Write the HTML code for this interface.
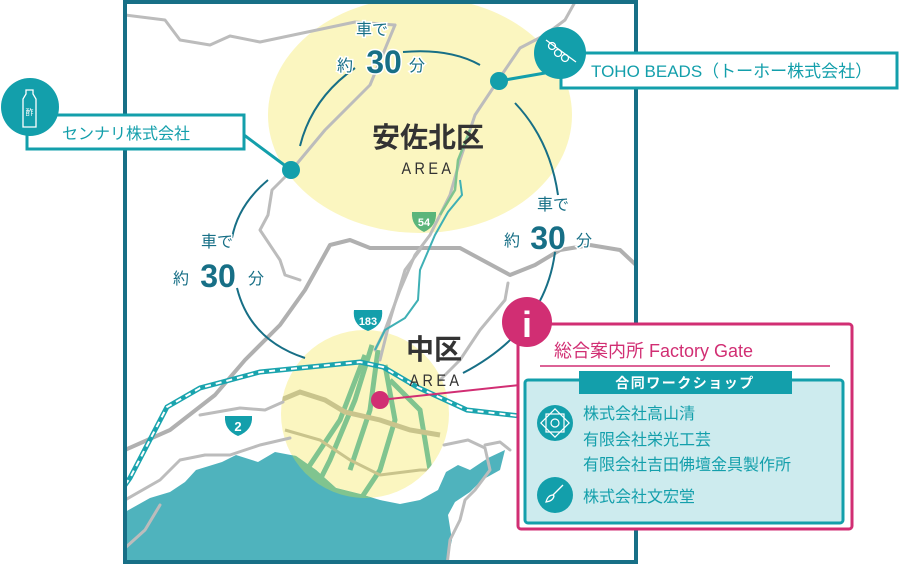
<!DOCTYPE html>
<html><head><meta charset="utf-8">
<style>
html,body{margin:0;padding:0;background:#fff;}
svg{display:block;}
text{font-family:"Liberation Sans","Noto Sans CJK JP",sans-serif;}
</style></head>
<body>
<svg width="900" height="567" viewBox="0 0 900 567" xmlns="http://www.w3.org/2000/svg">
<defs>
<clipPath id="mapclip"><rect x="125" y="2" width="511" height="560"/></clipPath>
<clipPath id="circ"><circle cx="365" cy="414" r="84"/></clipPath>
</defs>
<g clip-path="url(#mapclip)">
<rect x="125" y="2" width="511" height="560" fill="#fff"/>
<ellipse cx="420" cy="115" rx="152" ry="118" fill="#fbf6c0"/>
<circle cx="365" cy="414" r="84" fill="#fbf6c0"/>
<path d="M125,512 L150,498 L170,492 L185,482 L196,470 L222,462 L236,455 L258,462 L275,452 L296,456 L316,470 L336,488 L360,494 L380,500 L400,504 L420,500 L438,490 L446,472 L458,465 L470,470 L488,458 L505,450 L500,470 L482,480 L470,492 L455,502 L448,515 L452,540 L446,565 L125,565 Z" fill="#4fb3bd"/>
<g clip-path="url(#circ)"><path d="M125,512 L150,498 L170,492 L185,482 L196,470 L222,462 L236,455 L258,462 L275,452 L296,456 L316,470 L336,488 L360,494 L380,500 L400,504 L420,500 L438,490 L446,472 L458,465 L470,470 L488,458 L505,450 L500,470 L482,480 L470,492 L455,502 L448,515 L452,540 L446,565 L125,565 Z" fill="#80c48f"/>
<g stroke="#80c48f" stroke-width="5" fill="none">
<path d="M372,345 L355,400 L330,460 L310,500"/>
<path d="M378,350 L370,410 L350,470"/>
<path d="M385,365 L395,420 L380,470 L360,500"/>
<path d="M365,355 L340,420 L300,480"/>
<path d="M390,380 L420,410 L430,470"/>
</g>
<path d="M281,400 L300,392 L325,400 L345,412 L380,420 L410,430 L440,435" stroke="#c9c48c" stroke-width="5" fill="none"/>
<path d="M285,430 L320,440 L350,460 L380,475 L420,470 L450,470" stroke="#c9c48c" stroke-width="3" fill="none"/>
</g>
<g stroke="#bcbcbc" fill="none" stroke-linecap="round" stroke-linejoin="round">
<path d="M125,15 L165,20 L180,40 L210,45 L230,36 L260,42 L355,22 L395,25" stroke-width="3"/>
<path d="M395,25 L370,85 L355,100 L325,130 L310,148 L290,172 L272,190 L268,215 L260,230 L280,260 L285,275 L300,280" stroke-width="3"/>
<path d="M125,450 L170,430 L215,395 L245,360 L280,325 L305,290 L330,245 L350,240 L370,248 L460,248 L510,275 L535,265 L560,250 L590,245 L620,250 L636,265" stroke="#b0b0b0" stroke-width="4"/>
<path d="M125,500 L160,480 L180,460 L205,455 L230,455 L260,445 L290,438" stroke-width="3"/>
<path d="M125,548 L145,530 L160,505" stroke-width="3"/>
<path d="M200,415 L240,408 L265,410 L283,402" stroke-width="3"/>
<path d="M575,2 L565,20 L545,35 L520,48 L505,70 L475,115 L460,160 L450,195 L430,235 L415,255 L400,290 L385,330 L375,350" stroke-width="3"/>
<path d="M420,250 L405,270 L390,320 L380,360" stroke-width="3"/>
<path d="M508,283 L505,300 L480,330 L460,360 L440,380" stroke-width="3"/>
<path d="M444,445 L468,440 L485,448 L490,470 L475,490 L465,500 L460,520 L450,540 L447,565" stroke-width="3"/>
<path d="M485,445 L500,442 L510,450" stroke-width="3"/>
</g>
<path d="M460,180 L462,195 L448,212 L435,235 L420,270 L418,300 L405,318 L385,330 L375,350" stroke="#3fb0b5" stroke-width="2" fill="none"/>
<path d="M470,130 L458,160 L455,190 L440,215" stroke="#7fc48f" stroke-width="2.5" fill="none"/>
<path d="M125,485 L130,478 L167,407 L200,388 L260,372 L360,362 L383,367 L417,387 L467,410 L520,416 L640,420" stroke="#1aa4ae" stroke-width="5" fill="none"/>
<path d="M125,485 L130,478 L167,407 L200,388 L260,372 L360,362 L383,367 L417,387 L467,410 L520,416 L640,420" stroke="#fff" stroke-width="2" stroke-dasharray="6 5" fill="none"/>
<path d="M412,212 L436,212 Q437,226 424,232 Q411,226 412,212 Z" fill="#5bb57b"/>
<text x="424" y="226" font-size="11" font-weight="bold" fill="#fff" text-anchor="middle">54</text>
<path d="M354,310 L382,310 Q384,325 368,331 Q352,325 354,310 Z" fill="#139fab"/>
<text x="368" y="325" font-size="11" font-weight="bold" fill="#fff" text-anchor="middle">183</text>
<path d="M225,416 L252,416 Q253,430 238,436 Q224,430 225,416 Z" fill="#139fab"/>
<text x="238" y="431" font-size="13" font-weight="bold" fill="#fff" text-anchor="middle">2</text>
<g stroke="#176f86" stroke-width="2" fill="none">
<path d="M300,146 Q312,98 355,68"/>
<path d="M403,52 Q450,48 480,65"/>
<path d="M515,103 Q550,140 558,195"/>
<path d="M555,252 Q545,330 463,373"/>
<path d="M268,180 Q238,205 232,238"/>
<path d="M237,288 Q250,340 305,358"/>
</g>
<g fill="#176f86" text-anchor="middle" stroke="#fff" stroke-width="3" paint-order="stroke">
<text x="372" y="35" font-size="16">車で</text>
<text x="345" y="71" font-size="16">約</text>
<text x="384" y="73" font-size="32" font-weight="bold">30</text>
<text x="417" y="71" font-size="16">分</text>
<text x="553" y="210" font-size="16">車で</text>
<text x="512" y="246" font-size="16">約</text>
<text x="548" y="249" font-size="32" font-weight="bold">30</text>
<text x="584" y="246" font-size="16">分</text>
<text x="217" y="247" font-size="16">車で</text>
<text x="181" y="284" font-size="16">約</text>
<text x="218" y="287" font-size="32" font-weight="bold">30</text>
<text x="256" y="284" font-size="16">分</text>
</g>
<text x="428" y="147" font-size="28" font-weight="bold" fill="#333" text-anchor="middle">安佐北区</text>
<text x="428" y="174" font-size="17" fill="#333" text-anchor="middle" letter-spacing="4" transform="translate(428 0) scale(0.85 1) translate(-428 0)">AREA</text>
<text x="434" y="359" font-size="28" font-weight="bold" fill="#333" text-anchor="middle">中区</text>
<text x="436" y="386" font-size="17" fill="#333" text-anchor="middle" letter-spacing="4" transform="translate(436 0) scale(0.85 1) translate(-436 0)">AREA</text>
<line x1="380" y1="400" x2="520" y2="385" stroke="#d12e73" stroke-width="2"/>
<circle cx="380" cy="400" r="9" fill="#d12e73"/>
</g>
<rect x="125" y="2" width="511" height="560" fill="none" stroke="#176f86" stroke-width="4"/>

<line x1="244" y1="135" x2="291" y2="170" stroke="#139fab" stroke-width="3"/>
<circle cx="291" cy="170" r="9" fill="#139fab"/>
<rect x="27" y="115" width="217" height="34" fill="#fff" stroke="#139fab" stroke-width="3"/>
<circle cx="30" cy="107" r="29" fill="#139fab"/>
<g stroke="#fff" stroke-width="1.3" fill="none"><path d="M26,90 h7 v4 l3,5 v28 h-13 v-28 l3,-5 z"/></g>
<text x="29.5" y="115" font-size="8" fill="#fff" text-anchor="middle">酢</text>
<text x="62" y="139" font-size="16" fill="#139fab">センナリ株式会社</text>

<line x1="499" y1="81" x2="545" y2="73" stroke="#139fab" stroke-width="3"/>
<circle cx="499" cy="81" r="9" fill="#139fab"/>
<rect x="561" y="53" width="336" height="35" fill="#fff" stroke="#139fab" stroke-width="3"/>
<circle cx="560" cy="53" r="26" fill="#139fab"/>
<g stroke="#fff" stroke-width="1.3" fill="none"><line x1="546" y1="40" x2="576" y2="62"/><circle cx="552" cy="46" r="3.5"/><circle cx="558" cy="53" r="3.5"/><circle cx="565" cy="58" r="3.5"/></g>
<text x="591" y="77" font-size="17" fill="#139fab">TOHO BEADS（トーホー株式会社）</text>

<rect x="518" y="324" width="334" height="205" rx="3" fill="#fff" stroke="#d12e73" stroke-width="3"/>
<circle cx="527" cy="322" r="25" fill="#d12e73"/>
<text x="527" y="337" font-size="36" font-weight="bold" fill="#fff" text-anchor="middle" font-family="Liberation Serif,serif">i</text>
<text x="554" y="357" font-size="18" fill="#d12e73">総合案内所 Factory Gate</text>
<line x1="540" y1="366" x2="830" y2="366" stroke="#d12e73" stroke-width="1.5"/>
<rect x="525" y="380" width="318" height="143" rx="3" fill="#cdebee" stroke="#139fab" stroke-width="3"/>
<rect x="579" y="371" width="213" height="23" fill="#139fab"/>
<text x="685" y="388" font-size="14" font-weight="bold" fill="#fff" text-anchor="middle" letter-spacing="1.5">合同ワークショップ</text>
<circle cx="555" cy="423" r="18" fill="#139fab"/>
<g stroke="#fff" stroke-width="1.2" fill="none"><rect x="545" y="413" width="20" height="20" transform="rotate(45 555 423)"/><rect x="546" y="414" width="18" height="18"/><circle cx="555" cy="423" r="4"/></g>
<circle cx="555" cy="495" r="18" fill="#139fab"/>
<g stroke="#fff" stroke-width="1.3" fill="none"><line x1="563" y1="485" x2="553" y2="495"/><path d="M553,495 q-5,0 -7,7 q7,-1 8,-6 z"/></g>
<g fill="#139fab" font-size="16">
<text x="583" y="419">株式会社高山清</text>
<text x="583" y="445">有限会社栄光工芸</text>
<text x="583" y="470">有限会社吉田佛壇金具製作所</text>
<text x="583" y="502">株式会社文宏堂</text>
</g>
</svg>
</body></html>
